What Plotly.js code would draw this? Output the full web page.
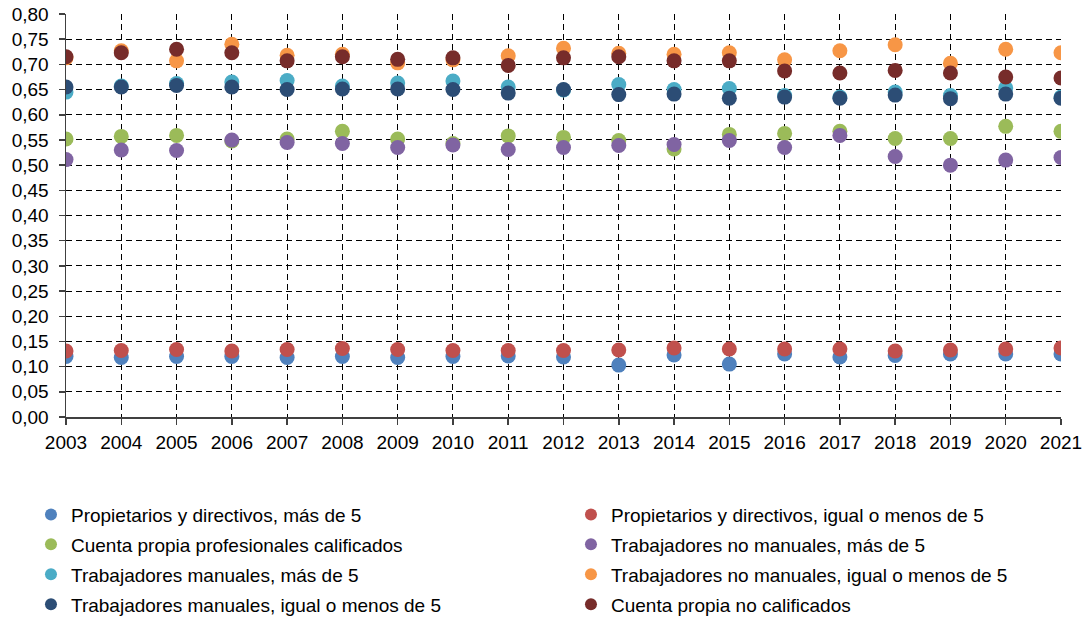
<!DOCTYPE html>
<html>
<head>
<meta charset="utf-8">
<script src="https://cdn.plot.ly/plotly-3.0.1.min.js"></script>
<style>
  html, body { margin: 0; padding: 0; background: #fff; }
  #chart { width: 1087px; height: 617px; }
</style>
</head>
<body>
<div id="chart"></div>
<script>
// Years on the horizontal axis
const years = [2003, 2004, 2005, 2006, 2007, 2008, 2009, 2010, 2011, 2012,
               2013, 2014, 2015, 2016, 2017, 2018, 2019, 2020, 2021];

// Series values, one per year
const propietariosMas5   = [0.120, 0.118, 0.120, 0.120, 0.118, 0.120, 0.118, 0.120, 0.121, 0.119,
                            0.103, 0.123, 0.105, 0.125, 0.119, 0.122, 0.125, 0.125, 0.125];
const propietariosMenos5 = [0.131, 0.132, 0.134, 0.131, 0.134, 0.136, 0.134, 0.132, 0.132, 0.132,
                            0.133, 0.137, 0.135, 0.135, 0.135, 0.131, 0.133, 0.135, 0.137];
const cuentaPropiaProf   = [0.552, 0.557, 0.559, 0.548, 0.552, 0.567, 0.552, 0.543, 0.558, 0.555,
                            0.549, 0.532, 0.561, 0.563, 0.567, 0.553, 0.553, 0.577, 0.567];
const noManualesMas5     = [0.511, 0.530, 0.529, 0.550, 0.545, 0.543, 0.535, 0.540, 0.531, 0.535,
                            0.539, 0.541, 0.549, 0.535, 0.559, 0.517, 0.500, 0.510, 0.515];
const manualesMas5       = [0.645, 0.657, 0.662, 0.665, 0.668, 0.657, 0.663, 0.667, 0.655, 0.649,
                            0.660, 0.650, 0.652, 0.638, 0.635, 0.645, 0.638, 0.653, 0.635];
const noManualesMenos5   = [0.713, 0.727, 0.707, 0.740, 0.718, 0.720, 0.703, 0.709, 0.717, 0.732,
                            0.722, 0.720, 0.723, 0.709, 0.727, 0.739, 0.702, 0.730, 0.723];
const manualesMenos5     = [0.655, 0.655, 0.658, 0.655, 0.650, 0.651, 0.651, 0.650, 0.643, 0.650,
                            0.640, 0.641, 0.633, 0.635, 0.633, 0.639, 0.632, 0.641, 0.633];
const cuentaPropiaNoCal  = [0.715, 0.723, 0.730, 0.723, 0.707, 0.715, 0.710, 0.713, 0.698, 0.713,
                            0.715, 0.707, 0.707, 0.687, 0.683, 0.688, 0.683, 0.675, 0.673];

// Series names as shown in the legend
const seriesNames = [
  "Propietarios y directivos, más de 5",
  "Propietarios y directivos, igual o menos de 5",
  "Cuenta propia profesionales calificados",
  "Trabajadores no manuales, más de 5",
  "Trabajadores manuales, más de 5",
  "Trabajadores no manuales, igual o menos de 5",
  "Trabajadores manuales, igual o menos de 5",
  "Cuenta propia no calificados"
];
const seriesValues = [propietariosMas5, propietariosMenos5, cuentaPropiaProf, noManualesMas5,
                      manualesMas5, noManualesMenos5, manualesMenos5, cuentaPropiaNoCal];
const seriesColors = ["#4F81BD", "#C0504D", "#9BBB59", "#8064A2",
                      "#4BACC6", "#F79646", "#2C4D75", "#772C2A"];

const FONT = "Liberation Sans, Arial, sans-serif";

// Left legend column holds the even-indexed series, right column the odd ones
const traces = seriesValues.map((vals, i) => ({
  type: "scatter",
  mode: "markers",
  x: years,
  y: vals,
  name: seriesNames[i],
  legend: i % 2 === 0 ? "legend" : "legend2",
  legendgroup: "g" + i,
  marker: { color: seriesColors[i], size: 15, line: { width: 0 } },
  hoverinfo: "x+y+name"
}));

const legendBase = {
  orientation: "v",
  xref: "paper", yref: "paper",
  xanchor: "left", yanchor: "top",
  font: { family: FONT, size: 19, color: "#000" },
  itemsizing: "constant",
  tracegroupgap: 2.2,
  bgcolor: "rgba(0,0,0,0)",
  borderwidth: 0
};

const layout = {
  width: 1087,
  height: 617,
  margin: { l: 66, r: 26, t: 14, b: 200, pad: 0, autoexpand: false },
  paper_bgcolor: "#fff",
  plot_bgcolor: "#fff",
  separators: ",.",
  font: { family: FONT, size: 19, color: "#000" },
  showlegend: true,
  xaxis: {
    range: [2003, 2021],
    tickmode: "linear", tick0: 2003, dtick: 1,
    showgrid: true, gridcolor: "#000", gridwidth: 1, griddash: "6px,4px",
    showline: true, linecolor: "#404040", linewidth: 1.5,
    ticks: "outside", ticklen: 6, tickcolor: "#404040", tickwidth: 1.5,
    ticklabelstandoff: 2,
    zeroline: false,
    tickfont: { family: FONT, size: 19, color: "#000" },
    fixedrange: true
  },
  yaxis: {
    range: [0, 0.8],
    tickmode: "linear", tick0: 0, dtick: 0.05,
    tickformat: ".2f",
    showgrid: true, gridcolor: "#000", gridwidth: 1, griddash: "6px,4px",
    showline: true, linecolor: "#404040", linewidth: 1.5,
    ticks: "outside", ticklen: 6, tickcolor: "#404040", tickwidth: 1.5,
    ticklabelstandoff: 6,
    zeroline: false,
    tickfont: { family: FONT, size: 19, color: "#000" },
    fixedrange: true
  },
  legend: Object.assign({}, legendBase, { x: -0.0352, y: -0.195 }),
  legend2: Object.assign({}, legendBase, { x: 0.5075, y: -0.195 })
};

Plotly.newPlot("chart", traces, layout, { displayModeBar: false, staticPlot: true });
</script>
</body>
</html>
